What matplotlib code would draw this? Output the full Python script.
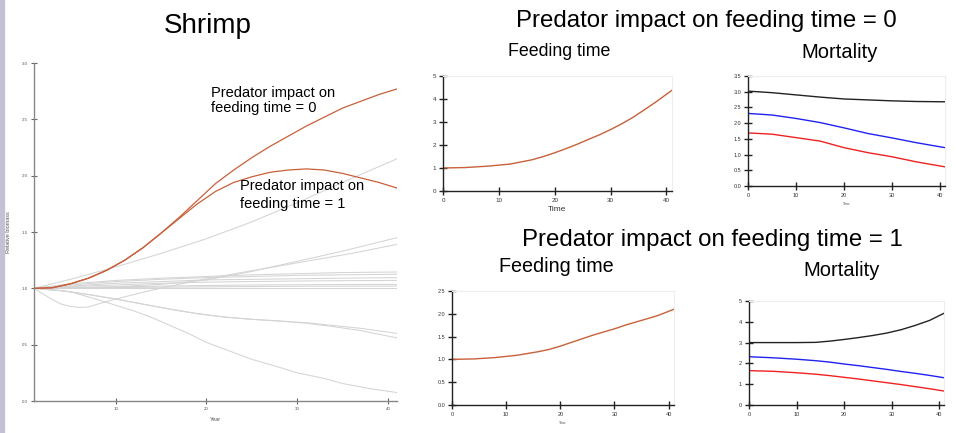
"""
Shrimp biomass under predator impact on feeding time
"""
import numpy as np
import matplotlib.pyplot as plt
from matplotlib.patches import Rectangle

plt.rcParams['font.family'] = ['Liberation Sans', 'DejaVu Sans']

# Left panel: relative biomass by year
years = [1, 3, 5, 7, 9, 11, 13, 15, 17, 19, 21, 23, 25, 27, 29, 31, 33, 35, 37, 39, 41]
shrimp_ft0 = [1.0, 1.005, 1.04, 1.09, 1.16, 1.25, 1.36, 1.49, 1.63, 1.78, 1.93, 2.05,
              2.16, 2.26, 2.35, 2.44, 2.52, 2.6, 2.66, 2.72, 2.77]
shrimp_ft1 = [1.0, 1.005, 1.04, 1.09, 1.16, 1.25, 1.36, 1.49, 1.62, 1.75, 1.86, 1.94,
              1.99, 2.03, 2.05, 2.06, 2.05, 2.02, 1.98, 1.94, 1.89]

grey_years = [1, 5, 10, 15, 20, 25, 30, 35, 41]
grey_up = [
    [1.0, 1.08, 1.19, 1.31, 1.44, 1.59, 1.76, 1.94, 2.15],
    [1.0, 1.005, 1.015, 1.035, 1.075, 1.15, 1.24, 1.33, 1.45],
    [1.0, 1.04, 1.07, 1.09, 1.105, 1.12, 1.13, 1.14, 1.145],
    [1.0, 1.03, 1.06, 1.08, 1.095, 1.105, 1.115, 1.12, 1.125],
    [1.0, 1.02, 1.045, 1.06, 1.075, 1.08, 1.085, 1.09, 1.095],
    [1.0, 1.015, 1.03, 1.045, 1.055, 1.06, 1.065, 1.068, 1.07],
    [1.0, 1.005, 1.012, 1.02, 1.025, 1.03, 1.032, 1.034, 1.035],
    [1.0, 1.003, 1.007, 1.01, 1.013, 1.016, 1.018, 1.019, 1.02],
    [1.0, 1.0, 1.0, 1.0, 1.0, 1.0, 1.0, 1.0, 1.0],
]
down_years = [1, 4, 7, 10, 13, 16, 19, 22, 25, 28, 31, 34, 37, 41]
down_a = [1.0, 0.98, 0.945, 0.905, 0.86, 0.815, 0.775, 0.745, 0.725, 0.71, 0.695, 0.67, 0.645, 0.60]
down_b = [1.0, 0.98, 0.945, 0.905, 0.86, 0.815, 0.775, 0.745, 0.725, 0.71, 0.69, 0.66, 0.625, 0.56]
dip_years = [1, 2, 3, 4, 5, 6, 7, 8, 10, 13, 16, 21, 26, 31, 36, 41]
dip_vals = [1.0, 0.95, 0.9, 0.86, 0.84, 0.83, 0.835, 0.86, 0.905, 0.965, 1.02, 1.1,
            1.17, 1.24, 1.31, 1.39]
steep_years = [1, 5, 8, 10, 12, 14, 16, 18, 20, 22, 25, 28, 30, 33, 35, 38, 41]
steep_vals = [1.0, 0.97, 0.9, 0.85, 0.8, 0.74, 0.67, 0.6, 0.52, 0.46, 0.37, 0.3, 0.25,
              0.2, 0.155, 0.11, 0.075]

# Small panels
t = [0, 4, 8, 12, 16, 18, 20, 22, 24, 26, 28, 30, 32, 34, 36, 38, 41]
feed0 = [1.0, 1.02, 1.08, 1.17, 1.36, 1.5, 1.66, 1.84, 2.03, 2.24, 2.44, 2.67, 2.92,
         3.2, 3.52, 3.85, 4.38]

tm = [0, 5, 10, 15, 20, 25, 30, 35, 41]
mort0_black = [3.02, 2.97, 2.9, 2.83, 2.77, 2.74, 2.71, 2.69, 2.68]
mort0_blue = [2.31, 2.26, 2.15, 2.02, 1.85, 1.67, 1.53, 1.38, 1.22]
mort0_red = [1.69, 1.65, 1.54, 1.43, 1.22, 1.06, 0.93, 0.77, 0.61]

feed1 = [1.0, 1.01, 1.04, 1.09, 1.17, 1.22, 1.29, 1.37, 1.45, 1.53, 1.6, 1.67, 1.75,
         1.82, 1.89, 1.96, 2.1]
t2 = [0, 5, 10, 14, 17, 20, 23, 26, 29, 32, 35, 38, 41]
mort1_black = [3.0, 3.0, 3.0, 3.01, 3.07, 3.15, 3.24, 3.34, 3.46, 3.62, 3.83, 4.07, 4.41]
mort1_blue = [2.32, 2.27, 2.2, 2.13, 2.06, 1.97, 1.89, 1.8, 1.71, 1.61, 1.52, 1.42, 1.31]
mort1_red = [1.65, 1.62, 1.55, 1.48, 1.41, 1.33, 1.25, 1.16, 1.07, 0.98, 0.88, 0.78, 0.67]

orange = '#c8603a'
grey = '#d4d4d4'


def style_small(ax, ylim, yticks, ylabels, fs=4.5):
    ax.set_xlim(0, 41)
    ax.set_ylim(*ylim)
    ax.set_xticks([0, 10, 20, 30, 40])
    ax.set_yticks(yticks)
    ax.set_yticklabels(ylabels)
    for s in ['left', 'bottom']:
        ax.spines[s].set_color('#222222')
        ax.spines[s].set_linewidth(1.0)
    for s in ['top', 'right']:
        ax.spines[s].set_color('#eeeeee')
        ax.spines[s].set_linewidth(0.8)
    ax.tick_params(direction='inout', length=6, width=1.0, color='#222222',
                   labelsize=fs, pad=2, labelcolor='#333333')


fig = plt.figure(figsize=(9.56, 4.33), dpi=100)
fig.patches.append(Rectangle((0, 0), 4 / 956, 1, transform=fig.transFigure,
                             color='#c4c0d6', zorder=0))

# Left big panel
ax = fig.add_axes([0.0356, 0.0739, 0.3797, 0.7806])
for v in grey_up:
    ax.plot(grey_years, v, color=grey, lw=0.75)
ax.plot(down_years, down_a, color=grey, lw=0.75)
ax.plot(down_years, down_b, color=grey, lw=0.75)
ax.plot(dip_years, dip_vals, color=grey, lw=0.75)
ax.plot(steep_years, steep_vals, color=grey, lw=0.75)
ax.plot(years, shrimp_ft0, color=orange, lw=0.9)
ax.plot(years, shrimp_ft1, color=orange, lw=0.9)
ax.set_xlim(1, 41)
ax.set_ylim(0, 3)
ax.set_xticks([10, 20, 30, 40])
ax.set_yticks([0, 0.5, 1.0, 1.5, 2.0, 2.5, 3.0])
ax.set_yticklabels(['0.0', '0.5', '1.0', '1.5', '2.0', '2.5', '3.0'])
for s in ['top', 'right']:
    ax.spines[s].set_visible(False)
for s in ['left', 'bottom']:
    ax.spines[s].set_color('#888888')
    ax.spines[s].set_linewidth(1.0)
ax.tick_params(direction='inout', length=5, width=0.8, color='#666666',
               labelsize=3.2, pad=2, labelcolor='#555555')
ax.set_xlabel('Year', fontsize=4, color='#555555', labelpad=4)
ax.set_ylabel('Relative biomass', fontsize=4, color='#555555', labelpad=8)
ax.text(20.55, 2.67, 'Predator impact on\nfeeding time = 0', fontsize=10.5,
        va='center', ha='left', linespacing=1.1)
ax.text(23.75, 1.83, 'Predator impact on\nfeeding time = 1', fontsize=10.5,
        va='center', ha='left', linespacing=1.4)

# Top feeding time
ax1 = fig.add_axes([0.4634, 0.5589, 0.2395, 0.2656])
ax1.plot(t, feed0, color=orange, lw=1.0)
style_small(ax1, (0, 5), [0, 1, 2, 3, 4, 5], ['0', '1', '2', '3', '4', '5'])
ax1.set_xlabel('Time', fontsize=6, color='#333333', labelpad=2)

# Top mortality
ax2 = fig.add_axes([0.7824, 0.5704, 0.2061, 0.254])
ax2.plot(tm, mort0_black, color='#222222', lw=1.0)
ax2.plot(tm, mort0_blue, color='#2222ee', lw=1.0)
ax2.plot(tm, mort0_red, color='#ee2222', lw=1.0)
style_small(ax2, (0, 3.5), [0, 0.5, 1, 1.5, 2, 2.5, 3, 3.5],
            ['0.0', '0.5', '1.0', '1.5', '2.0', '2.5', '3.0', '3.5'], fs=4)
ax2.set_xlabel('Time', fontsize=2.5, color='#555555', labelpad=3)

# Bottom feeding time
ax3 = fig.add_axes([0.4728, 0.0647, 0.2322, 0.2633])
ax3.plot(t, feed1, color=orange, lw=1.0)
style_small(ax3, (0, 2.5), [0, 0.5, 1, 1.5, 2, 2.5],
            ['0.0', '0.5', '1.0', '1.5', '2.0', '2.5'], fs=4)
ax3.set_xlabel('Time', fontsize=2.5, color='#555555', labelpad=3)

# Bottom mortality
ax4 = fig.add_axes([0.7835, 0.0647, 0.204, 0.2402])
ax4.plot(t2, mort1_black, color='#222222', lw=1.0)
ax4.plot(t2, mort1_blue, color='#2222ee', lw=1.0)
ax4.plot(t2, mort1_red, color='#ee2222', lw=1.0)
style_small(ax4, (0, 5), [0, 1, 2, 3, 4, 5], ['0', '1', '2', '3', '4', '5'], fs=4)

# Titles
fig.text(208 / 956, 1 - 26 / 433, 'Shrimp', fontsize=20, ha='center', va='center')
fig.text(706 / 956, 1 - 21 / 433, 'Predator impact on feeding time = 0',
         fontsize=17.3, ha='center', va='center')
fig.text(559 / 956, 1 - 51 / 433, 'Feeding time', fontsize=12.8, ha='center', va='center')
fig.text(840 / 956, 1 - 52 / 433, 'Mortality', fontsize=14.5, ha='center', va='center')
fig.text(712 / 956, 1 - 240 / 433, 'Predator impact on feeding time = 1',
         fontsize=17.3, ha='center', va='center')
fig.text(556 / 956, 1 - 267 / 433, 'Feeding time', fontsize=14.2, ha='center', va='center')
fig.text(842 / 956, 1 - 271 / 433, 'Mortality', fontsize=14.5, ha='center', va='center')

fig.savefig('out.png', dpi=100)
